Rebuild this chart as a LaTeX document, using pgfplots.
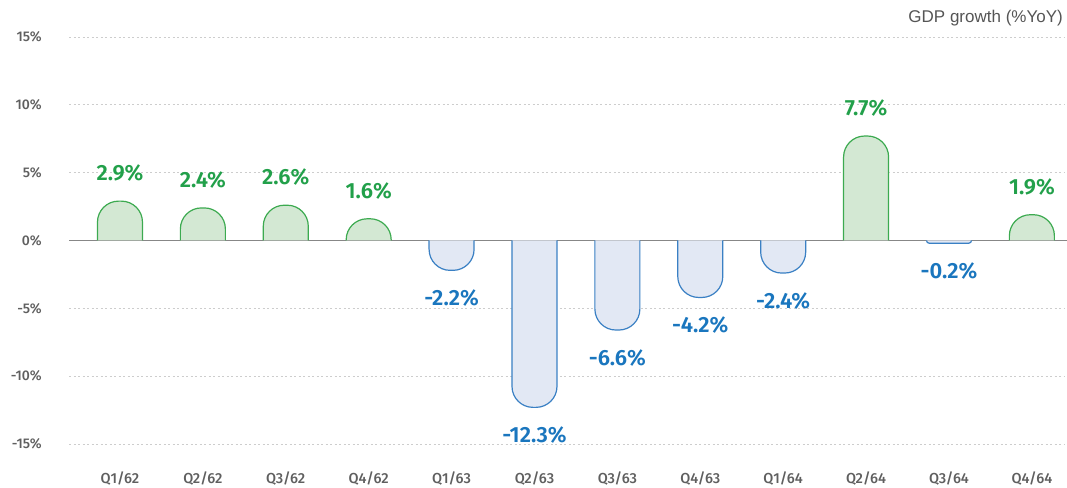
\documentclass[border=0pt]{standalone}
\usepackage{fontspec}
\setmainfont{Fira Sans}
\newfontfamily\titlefont{Liberation Sans}
\IfFontExistsTF{Fira Sans Medium}{\newfontfamily\tickfont{Fira Sans Medium}}{\newfontfamily\tickfont{Fira Sans}}
\IfFontExistsTF{Fira Sans SemiBold}{\newfontfamily\valfont{Fira Sans SemiBold}}{\newfontfamily\valfont{Fira Sans}[FakeBold=0]\let\valfontorig\valfont\def\valfont{\valfontorig\bfseries}}
\usepackage{pgfplots}
\pgfplotsset{compat=1.18}

\definecolor{gline}{RGB}{60,170,80}
\definecolor{gfill}{RGB}{211,232,211}
\definecolor{gtext}{RGB}{34,160,74}
\definecolor{bline}{RGB}{58,128,196}
\definecolor{bfill}{RGB}{226,232,244}
\definecolor{btext}{RGB}{26,118,190}
\definecolor{gridc}{RGB}{205,205,205}
\definecolor{tickc}{RGB}{95,95,95}
\definecolor{zeroc}{RGB}{135,135,135}

\def\yu{13.567}% bp per percent point
\pgfdeclareplotmark{nothing}{}

% bar with rounded end only: open path, so the base corners stay square
\pgfplotsset{
  roundbar/.style n args={4}{
    scatter, only marks, mark=nothing,
    visualization depends on={rawy \as \rawy},
    scatter/@pre marker code/.code={%
      \pgfkeys{/pgf/fpu=true,/pgf/fpu/output format=fixed}%
      \pgfmathsetmacro\barM{\rawy*(-\yu)}%
      \pgfmathsetmacro\barR{min(21,abs(\barM))}%
      \pgfkeys{/pgf/fpu=false}%
      \filldraw[draw=#1, fill=#2, line width=1.2bp, rounded corners=\barR bp]
        (-22.5bp,\barM bp) -- (-22.5bp,0bp) -- (22.5bp,0bp) -- (22.5bp,\barM bp);
      \node[text=#3, inner sep=0pt, font=\valfont\fontsize{22bp}{24bp}\selectfont]
        at (0bp,#4bp) {\pgfmathprintnumber[fixed,fixed zerofill,precision=1,assume math mode=true]{\rawy}\%};
    },
    scatter/@post marker code/.code={},
  },
}

\begin{document}
\begin{tikzpicture}
\useasboundingbox (0,0) rectangle (1067bp,488bp);
\begin{axis}[
  at={(69bp,44bp)}, anchor=south west,
  x=82.9bp, y=\yu bp,
  xmin=-0.615, xmax=11.39, ymin=-15, ymax=15,
  axis line style={draw=none},
  tick style={draw=none},
  ytick={-15,-10,...,15},
  yticklabels={-15\%,-10\%,-5\%,0\%,5\%,10\%,15\%},
  xtick={0,...,11},
  xticklabels={Q1/62,Q2/62,Q3/62,Q4/62,Q1/63,Q2/63,Q3/63,Q4/63,Q1/64,Q2/64,Q3/64,Q4/64},
  ymajorgrids,
  grid style={gridc, line width=0.8bp, dash pattern=on 2bp off 2.5bp},
  yticklabel style={anchor=east, inner sep=0pt, xshift=-27bp, text=tickc,
    font=\tickfont\fontsize{14bp}{16bp}\selectfont},
  xticklabel style={anchor=base, inner sep=0pt, yshift=-39bp, text=tickc,
    font=\tickfont\fontsize{14.5bp}{16bp}\selectfont},
  clip=false,
]
\addplot[roundbar={gline}{gfill}{gtext}{28}] coordinates {
  (0,2.9) (1,2.4) (2,2.6) (3,1.6) (9,7.7) (11,1.9)
};
\addplot[roundbar={bline}{bfill}{btext}{-28}] coordinates {
  (4,-2.2) (5,-12.3) (6,-6.6) (7,-4.2) (8,-2.4) (10,-0.2)
};
\draw[zeroc, line width=1.2bp] (axis cs:-0.615,0) -- (axis cs:11.45,0);
\end{axis}
\node[anchor=base east, inner sep=0pt, text={rgb,255:red,85;green,85;blue,85},
  font=\titlefont\fontsize{17bp}{19bp}\selectfont] at (1063bp,465bp) {GDP growth (\%YoY)};
\end{tikzpicture}
\end{document}
